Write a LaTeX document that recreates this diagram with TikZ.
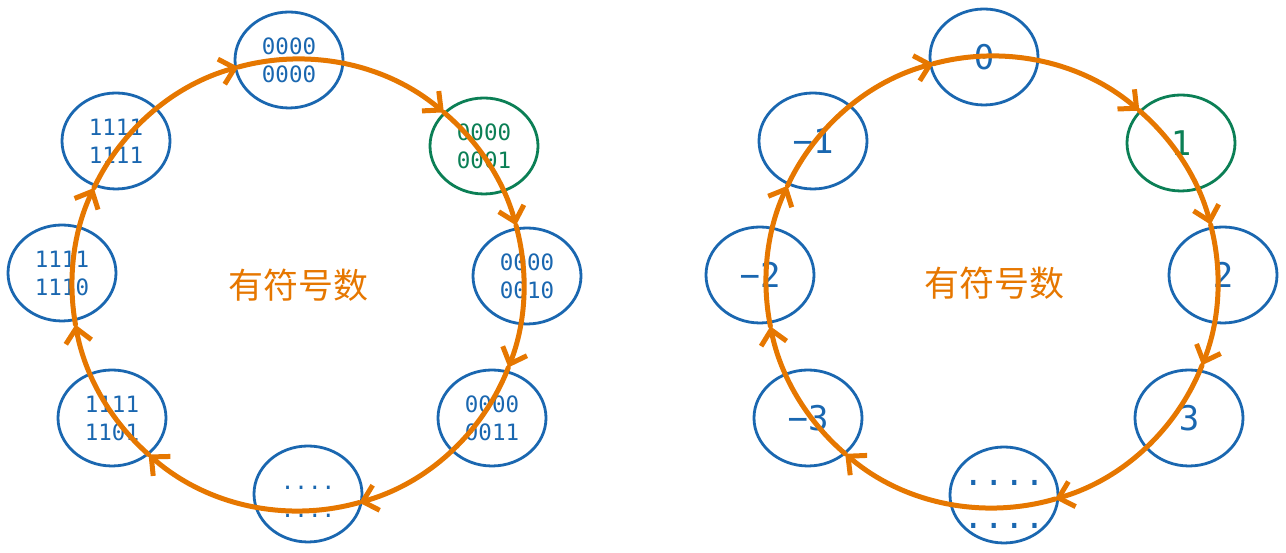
\documentclass[tikz,border=0pt]{standalone}
\usepackage{fontspec}
\usetikzlibrary{shapes.geometric,arrows.meta,calc}
\newfontfamily\monofont{DejaVu Sans Mono}
\newfontfamily\cjkfont{Noto Sans CJK SC}
\definecolor{nblue}{HTML}{1A67B0}
\definecolor{ngreen}{HTML}{0B7F55}
\definecolor{ringor}{HTML}{E67700}
\tikzset{
  bubble/.style={ellipse, draw=nblue, line width=2.8pt, minimum width=108pt, minimum height=96pt, inner sep=0pt, align=center, text=nblue},
  greenbubble/.style={draw=ngreen, text=ngreen},
  smallnum/.style={font=\monofont\fontsize{22.5}{28}\selectfont},
  bignum/.style={font=\monofont\fontsize{34}{43}\selectfont},
  ringseg/.style={draw=ringor, line width=5pt, line cap=round, -{Straight Barb[length=14pt,width=26pt]}},
  titletext/.style={font=\cjkfont\fontsize{35}{40}\selectfont, text=ringor}
}
\begin{document}
\begin{tikzpicture}[x=1pt,y=1pt]
\useasboundingbox (0,0) rectangle (1286,553);
% ---------- left ring ----------
\node[bubble,smallnum] (a0) at (289,493) {0000\\0000};
\node[bubble,greenbubble,smallnum] (a1) at (484,407) {0000\\0001};
\node[bubble,smallnum] (a2) at (527,277) {0000\\0010};
\node[bubble,smallnum] (a3) at (492,135) {0000\\0011};
\node[bubble,label={[smallnum,text=nblue,align=center,yshift=-8pt]center:....\\....}] (ad) at (308,59) {};
\node[bubble,smallnum] (b3) at (112,135) {1111\\1101};
\node[bubble,smallnum] (b2) at (62,280) {1111\\1110};
\node[bubble,smallnum] (b1) at (116,412) {1111\\1111};
\node[titletext] (tL) at (298,268) {有符号数};
\coordinate (cL) at (298,268);
\foreach \s/\e in {105.3/49.8, 49.8/15.3, 15.3/-21.4, -21.4/-74.3, -74.3/-131.4, -131.4/-169.9, -169.9/-205.4, -205.4/-254.7}
  \draw[ringseg] ($(cL)+(\s:226)$) arc[start angle=\s, end angle=\e, radius=226];
% ---------- right ring ----------
\node[bubble,bignum] (r0) at (984,496) {0};
\node[bubble,greenbubble,bignum] (r1) at (1181,410) {1};
\node[bubble,bignum] (r2) at (1223,278) {2};
\node[bubble,bignum] (r3) at (1189,135) {3};
\node[bubble,label={[bignum,text=nblue,align=center,yshift=-9pt]center:....\\....}] (rd) at (1004,58) {};
\node[bubble,bignum] (s3) at (808,135) {−3};
\node[bubble,bignum] (s2) at (760,278) {−2};
\node[bubble,bignum] (s1) at (813,412) {−1};
\node[titletext] (tR) at (994,270) {有符号数};
\coordinate (cR) at (992,271);
\foreach \s/\e in {105/49.3, 49.3/14.7, 14.7/-21.6, -21.6/-73.8, -73.8/-130.5, -130.5/-168.7, -168.7/-205.2, -205.2/-255}
  \draw[ringseg] ($(cR)+(\s:226)$) arc[start angle=\s, end angle=\e, radius=226];
\end{tikzpicture}
\end{document}
